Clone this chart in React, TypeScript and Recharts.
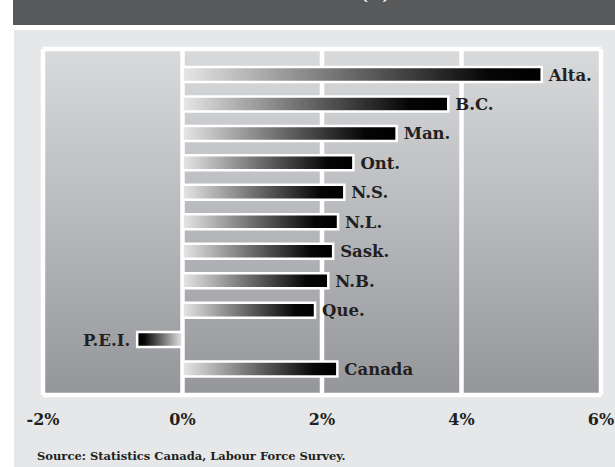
import React from 'react';
import { BarChart, Bar, XAxis, YAxis, CartesianGrid, LabelList, Cell } from 'recharts';

const provinces = ['Alta.', 'B.C.', 'Man.', 'Ont.', 'N.S.', 'N.L.', 'Sask.', 'N.B.', 'Que.', 'P.E.I.', 'Canada'];
const growth = [5.15, 3.81, 3.07, 2.45, 2.32, 2.23, 2.16, 2.09, 1.9, -0.65, 2.22];
const xTicks = [-2, 0, 2, 4, 6];
const tickLabels = ['-2%', '0%', '2%', '4%', '6%'];
const sourceNote = 'Source: Statistics Canada, Labour Force Survey.';
const titleText = '(%)';

const data = provinces.map((name, i) => ({ name, value: growth[i] }));

const FONT = "'DejaVu Serif', serif";
const INK = '#231f20';

const renderTick = (props: any) => {
  const { x, y, payload } = props;
  const idx = xTicks.indexOf(payload.value);
  return (
    <text x={x} y={y + 22} textAnchor="middle" fontFamily={FONT} fontWeight="bold" fontSize={16} fill={INK}>
      {idx >= 0 ? tickLabels[idx] : payload.value}
    </text>
  );
};

const renderLabel = (props: any) => {
  const { x, y, width, height, value, index } = props;
  const left = Math.min(x, x + width);
  const right = Math.max(x, x + width);
  const neg = value < 0;
  return (
    <text
      x={neg ? left - 7 : right + 7}
      y={y + height / 2 + 6}
      textAnchor={neg ? 'end' : 'start'}
      fontFamily={FONT}
      fontWeight="bold"
      fontSize={16.5}
      fill={INK}
    >
      {provinces[index]}
    </text>
  );
};

const frameRows = ({ offset }: any) => [offset.top, offset.top + offset.height];

export default function App() {
  return (
    <div style={{ position: 'absolute', left: 0, top: 0, width: 615, height: 467, background: '#ffffff', overflow: 'hidden' }}>
      <div style={{ position: 'absolute', left: 13, top: 0, width: 602, height: 25, background: '#58595b', overflow: 'hidden' }}>
        <div style={{ position: 'absolute', left: 348, top: -12, color: '#ffffff', fontFamily: FONT, fontWeight: 'bold', fontSize: 15, lineHeight: '15px' }}>
          {titleText}
        </div>
      </div>
      <div style={{ position: 'absolute', left: 14, top: 30, width: 601, height: 437, background: '#e6e7e8' }} />
      <div style={{ position: 'absolute', left: 0, top: 0 }}>
        <BarChart
          width={615}
          height={467}
          data={data}
          layout="vertical"
          margin={{ top: 49, right: 14, bottom: 42, left: 43 }}
          barCategoryGap={0}
        >
          <defs>
            <linearGradient id="plotBg" x1="0" y1="0" x2="0" y2="1">
              <stop offset="0%" stopColor="#d9dadc" />
              <stop offset="100%" stopColor="#95969a" />
            </linearGradient>
            <linearGradient id="barPos" x1="0" y1="0" x2="1" y2="0">
              <stop offset="0%" stopColor="#e6e6e6" />
              <stop offset="45%" stopColor="#6e6e6e" />
              <stop offset="85%" stopColor="#060606" />
              <stop offset="100%" stopColor="#000000" />
            </linearGradient>
            <linearGradient id="barNeg" x1="1" y1="0" x2="0" y2="0">
              <stop offset="0%" stopColor="#e6e6e6" />
              <stop offset="45%" stopColor="#6e6e6e" />
              <stop offset="85%" stopColor="#060606" />
              <stop offset="100%" stopColor="#000000" />
            </linearGradient>
          </defs>
          <CartesianGrid
            horizontal
            vertical
            stroke="#ffffff"
            strokeWidth={4.5}
            fill="url(#plotBg)"
            fillOpacity={1}
            horizontalCoordinatesGenerator={frameRows}
          />
          <XAxis
            type="number"
            domain={[-2, 6]}
            ticks={xTicks}
            axisLine={false}
            tickLine={false}
            tick={renderTick}
            height={30}
            interval={0}
          />
          <YAxis type="category" dataKey="name" hide padding={{ top: 11, bottom: 11 }} />
          <Bar dataKey="value" barSize={15} stroke="#ffffff" strokeWidth={2.5} isAnimationActive={false}>
            {data.map((d, i) => (
              <Cell key={i} fill={d.value < 0 ? 'url(#barNeg)' : 'url(#barPos)'} />
            ))}
            <LabelList dataKey="value" content={renderLabel} />
          </Bar>
        </BarChart>
      </div>
      <div style={{ position: 'absolute', left: 37, top: 449, fontFamily: FONT, fontWeight: 'bold', fontSize: 11.5, lineHeight: '14px', color: INK, whiteSpace: 'nowrap' }}>
        {sourceNote}
      </div>
    </div>
  );
}
